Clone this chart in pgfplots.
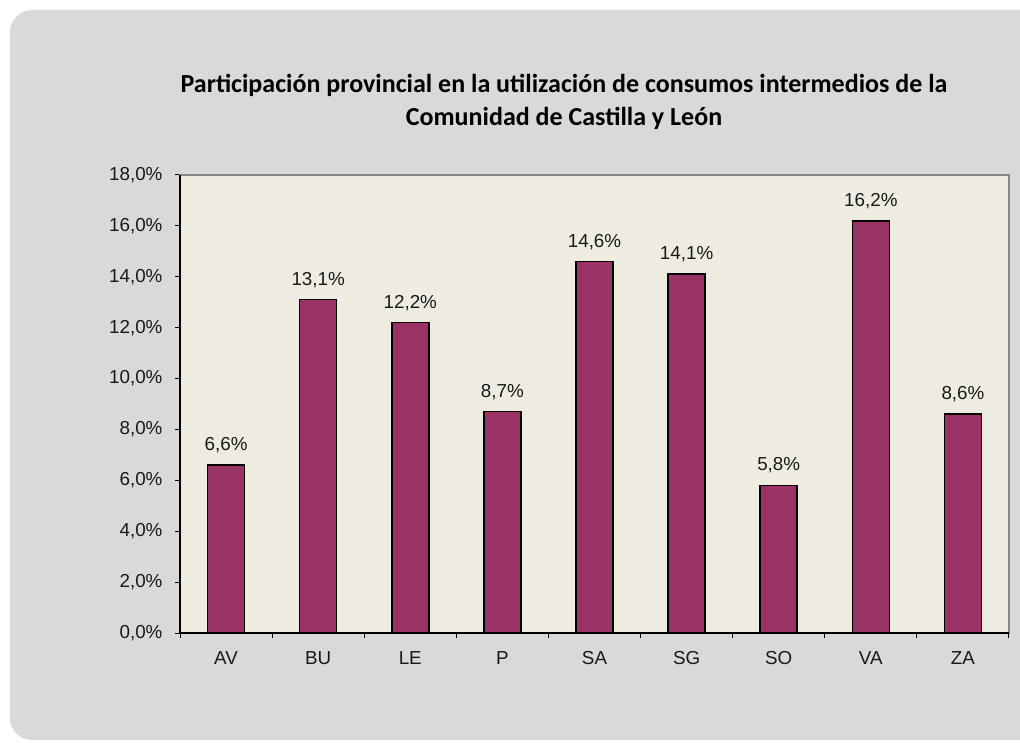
\documentclass[border=0pt]{standalone}
\usepackage{fontspec}
\setmainfont{Liberation Sans}
\newfontfamily\titlefont{Carlito}
\usepackage{pgfplots}
\pgfplotsset{compat=1.18}
\definecolor{outerbg}{HTML}{D9D9D9}
\definecolor{plotbg}{HTML}{EEECE1}
\definecolor{barcol}{HTML}{993366}
\definecolor{framegray}{HTML}{868686}
\begin{document}
\begin{tikzpicture}[x=1pt,y=1pt]
\useasboundingbox (0,0) rectangle (1020,742);
\fill[white] (0,0) rectangle (1020,742);
\fill[outerbg, rounded corners=22pt] (10,2) rectangle (1045,732);
\node[anchor=base, font=\titlefont\bfseries\fontsize{26}{30}\selectfont, inner sep=0pt] at (564,649) {Participación provincial en la utilización de consumos intermedios de la};
\node[anchor=base, font=\titlefont\bfseries\fontsize{26}{30}\selectfont, inner sep=0pt] at (564,616) {Comunidad de Castilla y León};
\begin{axis}[
  at={(180pt,109pt)}, anchor=south west,
  scale only axis, width=829pt, height=458pt,
  xmin=-0.5, xmax=8.5, ymin=0, ymax=18,
  axis background/.style={fill=plotbg},
  axis line style={draw=framegray, line width=1.2pt},
  xtick={0,...,8},
  xticklabels={AV,BU,LE,P,SA,SG,SO,VA,ZA},
  minor xtick={-0.5,0.5,...,8.5},
  major x tick style={draw=none},
  minor x tick style={draw=black, line width=1pt},
  ytick={0,2,...,18},
  y tick style={draw=black, line width=1pt},
  tick align=outside,
  major tick length=5pt, minor tick length=5pt,
  xtick pos=bottom, ytick pos=left,
  yticklabel={\pgfmathprintnumber[fixed,fixed zerofill,precision=1,use comma]{\tick}\%},
  /pgf/number format/assume math mode=true,
  tick label style={font=\fontsize{18.8}{22}\selectfont, text=black!90},
  xticklabel style={text height=13.5pt, text depth=0pt, yshift=-9pt},
  yticklabel style={xshift=-9pt},
  ybar, bar width=37pt,
  nodes near coords={\pgfmathprintnumber[fixed,fixed zerofill,precision=1,use comma]{\pgfplotspointmeta}\%},
  nodes near coords style={font=\fontsize{18.8}{22}\selectfont, text=black!90, anchor=south, yshift=8pt},
  clip=false,
]
\addplot[fill=barcol, draw=black, line width=1.5pt] coordinates {
(0,6.6) (1,13.1) (2,12.2) (3,8.7) (4,14.6) (5,14.1) (6,5.8) (7,16.2) (8,8.6)};
\draw[black, line width=1.8pt] (rel axis cs:0,1) -- (rel axis cs:0,0) -- (rel axis cs:1,0);
\end{axis}
\end{tikzpicture}
\end{document}
